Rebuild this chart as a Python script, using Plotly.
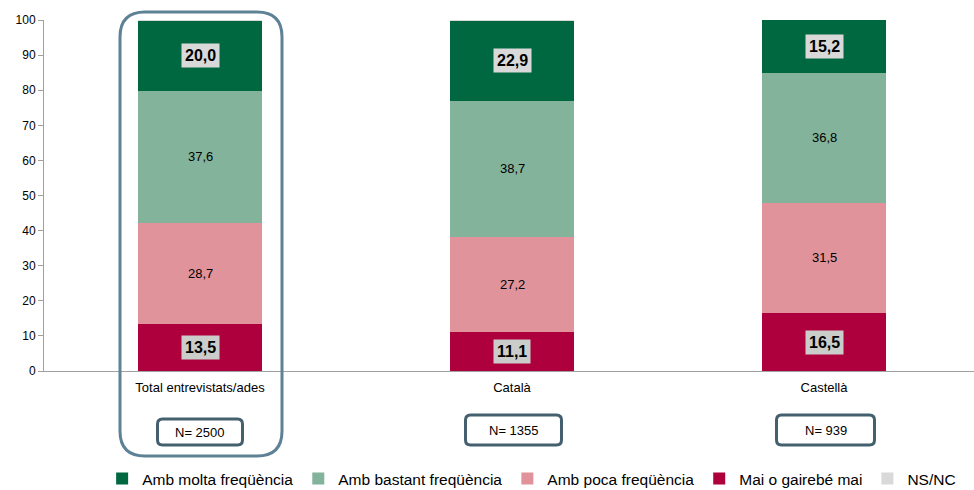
import plotly.graph_objects as go

categories = ["Total entrevistats/ades", "Català", "Castellà"]
n_labels = ["N= 2500", "N= 1355", "N= 939"]
series_names = ["Mai o gairebé mai", "Amb poca freqüència", "Amb bastant freqüència", "Amb molta freqüència", "NS/NC"]
mai = [13.5, 11.1, 16.5]
poca = [28.7, 27.2, 31.5]
bastant = [37.6, 38.7, 36.8]
molta = [20.0, 22.9, 15.2]
nsnc = [0.2, 0.1, 0.0]
yticks = [0, 10, 20, 30, 40, 50, 60, 70, 80, 90, 100]

series_values = [mai, poca, bastant, molta, nsnc]
colors = ["#AE003C", "#E0939A", "#84B39C", "#006841", "#D9D9D9"]
ranks = [4, 3, 2, 1, 5]
boxed = [True, False, False, True, False]

x = list(range(len(categories)))
fig = go.Figure()
for name, vals, col, rk in zip(series_names, series_values, colors, ranks):
    fig.add_trace(go.Bar(x=x, y=vals, name=name, marker=dict(color=col, line=dict(width=0)),
                         width=0.4, legendrank=rk, hoverinfo="skip"))

annotations = []
cum = [0.0] * len(categories)
for si, vals in enumerate(series_values):
    for ci, v in enumerate(vals):
        mid = cum[ci] + v / 2
        cum[ci] += v
        if si == 4:
            continue
        txt = f"{v:.1f}".replace(".", ",")
        if boxed[si]:
            annotations.append(dict(x=ci, y=mid, xref="x", yref="y", text=f"<b>{txt}</b>", showarrow=False,
                                    font=dict(size=16, color="black", family="Liberation Sans, Arial"),
                                    bgcolor="#D9D9D9" if si == 3 else "#CBCDCB", borderpad=3))
        else:
            annotations.append(dict(x=ci, y=mid, xref="x", yref="y", text=txt, showarrow=False,
                                    font=dict(size=13, color="black", family="Liberation Sans, Arial")))

# pixel helpers (plot area: x 44..974, y 20..371)
def py2paper(py):
    return (371 - py) / 351.0

def rounded_rect(x0, x1, y0, y1, rx, ry):
    return (f"M {x0+rx} {y0} L {x1-rx} {y0} Q {x1} {y0} {x1} {y0+ry} "
            f"L {x1} {y1-ry} Q {x1} {y1} {x1-rx} {y1} L {x0+rx} {y1} "
            f"Q {x0} {y1} {x0} {y1-ry} L {x0} {y0+ry} Q {x0} {y0} {x0+rx} {y0} Z")

unit = 312.0
shapes = []
# big rounded frame around first category
shapes.append(dict(type="path", xref="x", yref="paper",
                   path=rounded_rect(0 - 80 / unit, 0 + 82 / unit, py2paper(456), py2paper(12), 25 / unit, 25 / 351),
                   line=dict(color="#5E8196", width=3)))
box_w = [85, 96, 98]
box_y = [(419, 445), (415, 445), (415, 445)]
for ci, lab in enumerate(n_labels):
    half = box_w[ci] / 2 / unit
    cx = ci + (0 if ci == 0 else 1.5 / unit)
    y0p, y1p = py2paper(box_y[ci][1]), py2paper(box_y[ci][0])
    shapes.append(dict(type="path", xref="x", yref="paper",
                       path=rounded_rect(cx - half, cx + half, y0p, y1p, 5 / unit, 5 / 351),
                       line=dict(color="#44606E", width=3)))
    annotations.append(dict(x=cx, y=(y0p + y1p) / 2, xref="x", yref="paper", text=lab, showarrow=False,
                            xanchor="center", yanchor="middle",
                            font=dict(size=13, color="black", family="Liberation Sans, Arial")))

fig.update_layout(
    barmode="stack",
    width=974, height=490,
    margin=dict(l=44, r=0, t=20, b=119, autoexpand=False),
    paper_bgcolor="white", plot_bgcolor="white",
    font=dict(family="Liberation Sans, Arial", size=12, color="black"),
    xaxis=dict(range=[-0.5, 0.5 + 930 / unit - 1], tickmode="array", tickvals=x, ticktext=categories,
               showline=True, linecolor="#A0A0A0", linewidth=1, ticks="", showgrid=False,
               zeroline=False, tickfont=dict(size=13, color="black"), fixedrange=True,
               ticklabelstandoff=4),
    yaxis=dict(range=[0, 100], tickmode="array", tickvals=yticks, showline=True, linecolor="#A0A0A0",
               linewidth=1, ticks="outside", ticklen=5, tickcolor="#A0A0A0", showgrid=False,
               zeroline=False, tickfont=dict(size=12, color="black"), fixedrange=True),
    legend=dict(orientation="h", x=0.0625, y=py2paper(479), xanchor="left", yanchor="middle",
                font=dict(size=15.5, color="black"), itemwidth=30, traceorder="normal"),
    shapes=shapes,
    annotations=annotations,
    showlegend=True,
)
fig.write_html("out.html", config={"displayModeBar": False},
               post_script="document.body.style.margin='0';")
